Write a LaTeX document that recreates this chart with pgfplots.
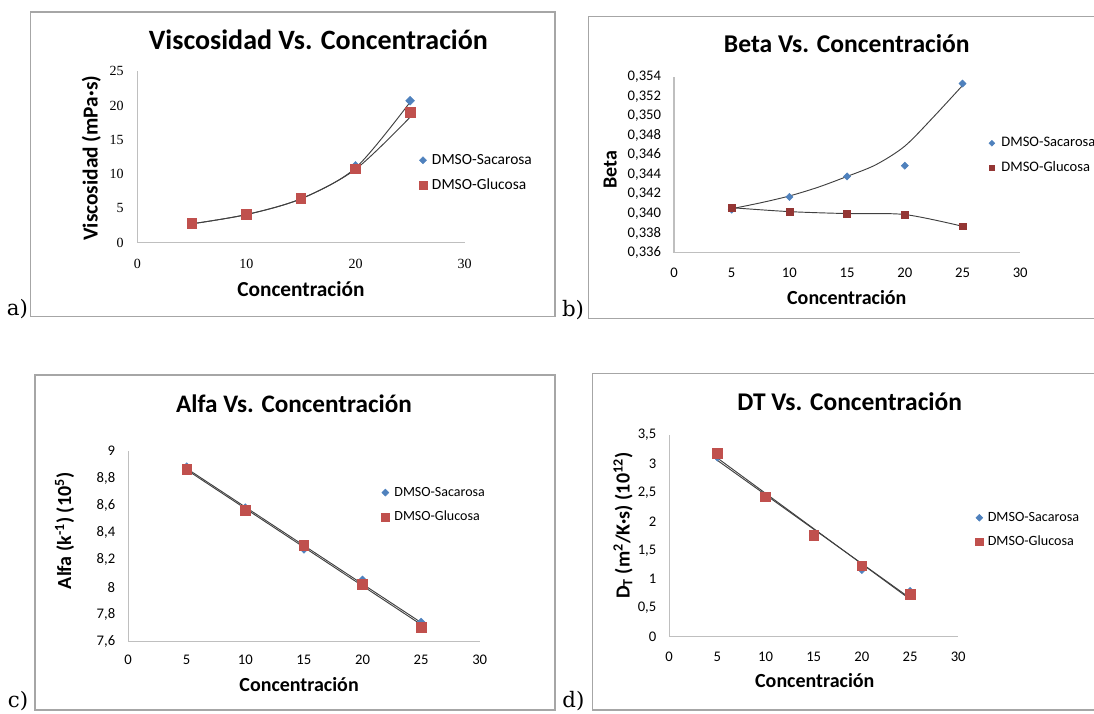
\documentclass[border=0pt]{standalone}
\usepackage{fontspec}
\usepackage{pgfplots}
\pgfplotsset{compat=1.18}
\newfontfamily\calibri{Carlito}
\newfontfamily\cambria{Liberation Serif}
\newfontfamily\bookfont{DejaVu Serif}
\definecolor{sacblue}{HTML}{4F81BD}
\definecolor{glured}{HTML}{C0504D}
\definecolor{gludark}{HTML}{943634}
\definecolor{framegray}{HTML}{A6A6A6}
\definecolor{axgray}{HTML}{BFBFBF}

\newcommand\titlefont[1]{\calibri\bfseries\fontsize{#1}{#1}\selectfont}
\newcommand\labelfont[1]{\calibri\bfseries\fontsize{#1}{#1}\selectfont}
\newcommand\tickfont{\calibri\fontsize{11}{12}\selectfont}
\newcommand\letterfont{\bookfont\fontsize{16}{16}\selectfont}

\pgfplotsset{
  panel/.style={
    scale only axis, clip=false,
    axis lines*=left,
    axis line style={draw=axgray, line width=0.8pt},
    major tick length=0pt,
    xmin=0, xmax=30,
    tick label style={font=\tickfont},
    xticklabel style={anchor=north, inner sep=0pt, yshift=-11pt},
    yticklabel style={anchor=east, inner sep=0pt, xshift=-9.5pt},
    scaled ticks=false,
    /pgf/number format/assume math mode=true,
    /pgf/number format/use comma,
    legend style={draw=none, fill=none, inner sep=0pt, outer sep=0pt,
      anchor=west, nodes={inner sep=0pt},
      /tikz/every even column/.append style={anchor=west}},
    legend image code/.code={\draw[##1, every mark/.append style={scale=0.8}] plot coordinates {(0pt,0pt)};},
  },
  % Excel-style diamond: a square turned by 45 degrees
  sac/.style={only marks, mark=square*, mark size=2.3pt, mark options={rotate=45}, color=sacblue},
  glu/.style={only marks, mark=square*, mark size=3.6pt, color=glured},
  trend/.style={forget plot, no markers, smooth, draw=black!75, line width=0.7pt},
}

\begin{document}
\begin{tikzpicture}
\useasboundingbox (0,0) rectangle (820.5pt,534.75pt);
\clip (0,0) rectangle (820.5pt,534.75pt);

% panel frames
\draw[framegray, line width=1.1pt] (22.9pt,297.2pt) rectangle (416.25pt,525.8pt);
\draw[framegray, line width=1.1pt] (441.2pt,296pt) rectangle (830pt,522.2pt);
\draw[framegray, line width=1.1pt] (26.1pt,2.25pt) rectangle (416.25pt,253.5pt);
\draw[framegray, line width=1.1pt] (444.3pt,2.25pt) rectangle (830pt,254.8pt);

% a) viscosity
\begin{axis}[panel, at={(102.98pt,352.73pt)}, anchor=south west,
  width=245.48pt, height=128.55pt,
  ymin=0, ymax=25, ytick={0,5,10,15,20,25}, xtick={0,10,20,30},
  tick label style={font=\cambria\fontsize{10.5}{12}\selectfont},
  xticklabel style={yshift=-1pt},
  yticklabel style={xshift=-0.5pt},
  legend style={at={(0.861,0.4075)}, row sep=9.3pt,
    font=\calibri\fontsize{11.6}{12}\selectfont,
    /tikz/every odd column/.append style={column sep=3.9pt}}]
\addplot[sac] coordinates {(5,2.8) (10,4.1) (15,6.4) (20,11.2) (25,20.7)};
\addlegendentry{DMSO-Sacarosa}
\addplot[glu] coordinates {(5,2.85) (10,4.15) (15,6.5) (20,10.8) (25,19.0)};
\addlegendentry{DMSO-Glucosa}
\addplot[trend] coordinates {(5,2.75) (10,4.1) (15,6.4) (20,10.9) (25,20.5)};
\addplot[trend] coordinates {(5,2.75) (10,4.1) (15,6.4) (20,10.7) (25,18.3)};
\end{axis}

% b) beta
\begin{axis}[panel, at={(505.5pt,345.23pt)}, anchor=south west,
  width=259.65pt, height=132pt,
  ymin=0.336, ymax=0.354,
  ytick={0.336,0.338,0.340,0.342,0.344,0.346,0.348,0.350,0.352,0.354},
  xtick={0,5,10,15,20,25,30},
  xticklabel style={yshift=-0.4pt},
  yticklabel style={/pgf/number format/.cd, fixed, fixed zerofill, precision=3, use comma},
  legend style={at={(0.91,0.551)}, row sep=9.6pt,
    font=\calibri\fontsize{10.9}{12}\selectfont,
    /tikz/every odd column/.append style={column sep=5pt}}]
\addplot[sac, mark size=1.9pt] coordinates {(5,0.3404) (10,0.3417) (15,0.3438) (20,0.3449) (25,0.3533)};
\addlegendentry{DMSO-Sacarosa}
\addplot[glu, mark size=2.6pt, color=gludark] coordinates {(5,0.3406) (10,0.3402) (15,0.3400) (20,0.3399) (25,0.3387)};
\addlegendentry{DMSO-Glucosa}
\addplot[trend] coordinates {(5,0.3405) (7.5,0.3411) (10,0.3418) (12.5,0.3427) (15,0.3438) (17.5,0.3450) (20,0.3469) (22.5,0.3499) (25,0.3531)};
\addplot[trend] coordinates {(5,0.3406) (10,0.3402) (15,0.3400) (20,0.3399) (25,0.3387)};
\end{axis}

% c) alpha
\begin{axis}[panel, at={(96.08pt,53.55pt)}, anchor=south west,
  width=263.7pt, height=143.1pt,
  ymin=7.6, ymax=9, ytick={7.6,7.8,8,8.2,8.4,8.6,8.8,9},
  xtick={0,5,10,15,20,25,30},
  xticklabel style={yshift=0.8pt},
  yticklabel style={/pgf/number format/.cd, fixed, precision=1, use comma},
  legend style={at={(0.7207,0.716)}, row sep=9.85pt,
    font=\calibri\fontsize{10.5}{12}\selectfont,
    /tikz/every odd column/.append style={column sep=3.9pt}}]
\addplot[sac] coordinates {(5,8.88) (10,8.58) (15,8.28) (20,8.05) (25,7.74)};
\addlegendentry{DMSO-Sacarosa}
\addplot[glu] coordinates {(5,8.865) (10,8.565) (15,8.305) (20,8.02) (25,7.705)};
\addlegendentry{DMSO-Glucosa}
\addplot[trend] coordinates {(5,8.87) (25,7.74)};
\addplot[trend] coordinates {(5,8.86) (25,7.725)};
\end{axis}

% d) thermal diffusion
\begin{axis}[panel, at={(501.9pt,57.23pt)}, anchor=south west,
  width=216.75pt, height=151.28pt,
  ymin=0, ymax=3.5, ytick={0,0.5,1,1.5,2,2.5,3,3.5},
  xtick={0,5,10,15,20,25,30},
  yticklabel style={/pgf/number format/.cd, fixed, precision=1, use comma},
  legend style={at={(1.06,0.529)}, row sep=9.5pt,
    font=\calibri\fontsize{10.6}{12}\selectfont,
    /tikz/every odd column/.append style={column sep=3.4pt}}]
\addplot[sac] coordinates {(5,3.12) (10,2.43) (15,1.76) (20,1.17) (25,0.78)};
\addlegendentry{DMSO-Sacarosa}
\addplot[glu] coordinates {(5,3.18) (10,2.43) (15,1.76) (20,1.23) (25,0.74)};
\addlegendentry{DMSO-Glucosa}
\addplot[trend] coordinates {(5,3.06) (25,0.67)};
\addplot[trend] coordinates {(5,3.10) (25,0.65)};
\end{axis}

% titles
\node[font=\titlefont{21}] at (238.8pt,505.28pt) {Viscosidad Vs. Concentración};
\node[font=\titlefont{19.2}] at (635.1pt,502.28pt) {Beta Vs. Concentración};
\node[font=\titlefont{18.9}] at (220.5pt,232.28pt) {Alfa Vs. Concentración};
\node[font=\titlefont{19.1}] at (637.3pt,233.5pt) {DT Vs. Concentración};

% axis labels
\node[font=\labelfont{16}] at (225.7pt,317.78pt) {Concentración};
\node[font=\labelfont{15}] at (635.1pt,311.78pt) {Concentración};
\node[font=\labelfont{15}] at (224.3pt,21pt) {Concentración};
\node[font=\labelfont{15}] at (611.1pt,24.2pt) {Concentración};
\node[font=\labelfont{16}, rotate=90] at (68.4pt,416pt) {Viscosidad (mPa·s)};
\node[font=\labelfont{15}, rotate=90] at (457.7pt,407.25pt) {Beta};
\node[font=\labelfont{15}, rotate=90] at (48.4pt,136.65pt) {Alfa (k\textsuperscript{-1}) (10\textsuperscript{5})};
\node[font=\labelfont{15}, rotate=90] at (467.25pt,140.4pt) {D\textsubscript{T} (m\textsuperscript{2}/K·s) (10\textsuperscript{12})};

% panel letters
\node[font=\letterfont, inner sep=0pt] at (13.1pt,302.85pt) {a)};
\node[font=\letterfont, inner sep=0pt] at (429.75pt,302.25pt) {b)};
\node[font=\letterfont, inner sep=0pt] at (13.5pt,9pt) {c)};
\node[font=\letterfont, inner sep=0pt] at (430.1pt,9pt) {d)};
\end{tikzpicture}
\end{document}
